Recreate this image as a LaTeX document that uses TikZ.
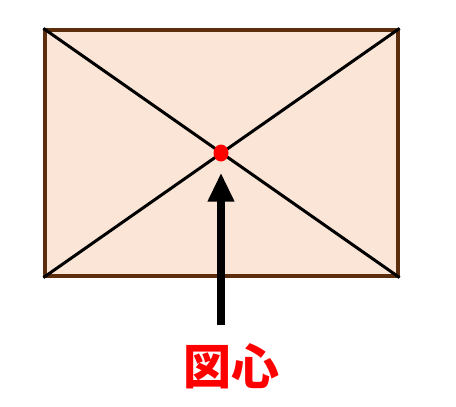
\documentclass[tikz,border=0pt]{standalone}
\usepackage{fontspec}
\newfontfamily\cjk{Noto Sans CJK JP}
\usetikzlibrary{arrows.meta,positioning,shapes.geometric}
\definecolor{peach}{HTML}{FBE5D6}
\definecolor{brownline}{HTML}{5C2E0E}

\begin{document}
\begin{tikzpicture}
            [x=1pt,y=-1pt,
             plate/.style={draw=brownline,fill=peach,line width=3.2pt,minimum width=353pt,minimum height=246pt,inner sep=0pt},
             diag/.style={draw=black,line width=3pt},
             centroid/.style={ellipse,fill=red,minimum width=15pt,minimum height=17pt,inner sep=0pt},
             pointer/.style={-{Triangle[width=25pt,length=29pt]},line width=8pt,shorten >=11pt}]
            \useasboundingbox (0,0) rectangle (456,407);

            \node (plate) [plate] at (221.5,153) {};
            \draw[diag] (plate.north west) -- (plate.south east);
            \draw[diag] (plate.south west) -- (plate.north east);
            \node (c) [centroid] at (221,153) {};

            \coordinate (tail) at (221,325);
            \draw[pointer] (tail) -- (c);

            \node (lbl) [text=red,font=\cjk\bfseries\fontsize{48}{50}\selectfont] at (231,366) {図心};
        \end{tikzpicture}
\end{document}
